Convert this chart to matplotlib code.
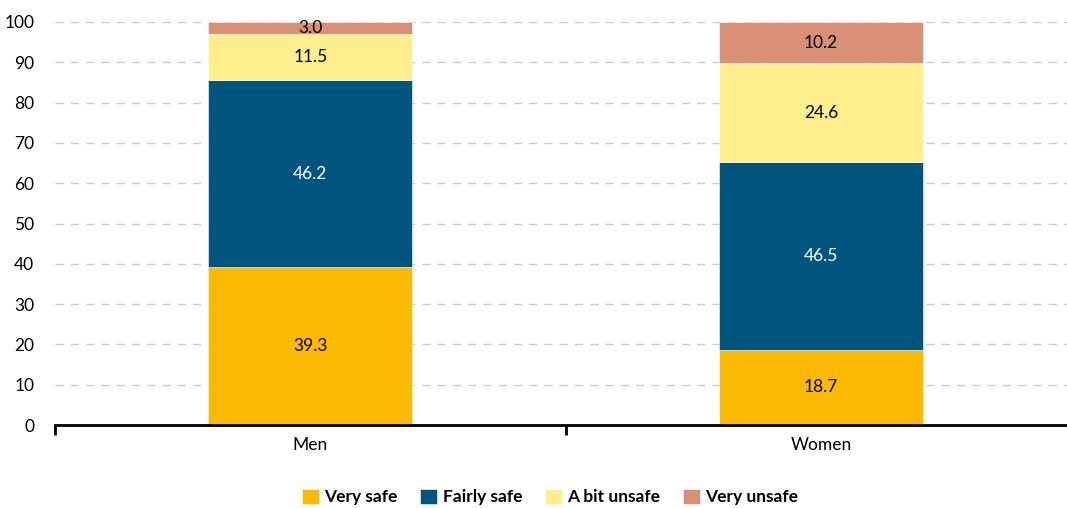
import numpy as np
from matplotlib import pyplot as plt
from matplotlib.ticker import FixedLocator

plt.rcParams['font.family'] = ['Lato', 'DejaVu Sans']

groups = ["Men", "Women"]
series = ["Very safe", "Fairly safe", "A bit unsafe", "Very unsafe"]
very_safe = [39.3, 18.7]
fairly_safe = [46.2, 46.5]
bit_unsafe = [11.5, 24.6]
very_unsafe = [3.0, 10.2]
colors = ["#FBBA00", "#00557F", "#FFEF8C", "#D99074"]
label_colors = ["black", "white", "black", "black"]

fig = plt.figure(figsize=(10.67, 5.08), dpi=100)
ax = fig.add_axes([55/1067, 83/508, 1012/1067, 403/508])

x = np.arange(len(groups))
bottom = np.zeros(len(groups))
for name, vals, col, lc in zip(series, [very_safe, fairly_safe, bit_unsafe, very_unsafe], colors, label_colors):
    ax.bar(x, vals, width=0.4, bottom=bottom, color=col, label=name,
           edgecolor="white", linewidth=0.4, zorder=3)
    for xi, b, v in zip(x, bottom, vals):
        ax.text(xi, b + v / 2, f"{v:.1f}", ha="center", va="center",
                color=lc, fontsize=12.5, zorder=4)
    bottom += np.array(vals)

ax.set_xlim(-0.5, 1.482)
ax.set_ylim(0, 100)
ax.set_yticks(np.arange(0, 101, 10))
ax.tick_params(axis="y", length=0, labelsize=12.5, pad=15)
ax.set_xticks(x)
ax.set_xticklabels(groups, fontsize=12.5)
ax.tick_params(axis="x", which="major", length=0, pad=9)
ax.xaxis.set_minor_locator(FixedLocator([-0.5, 0.5, 1.5]))
ax.tick_params(axis="x", which="minor", length=7, width=2, direction="out", color="black")

ax.yaxis.grid(True, color="#CCCCCC", linestyle=(0, (6, 5)), linewidth=1, zorder=0)
ax.set_axisbelow(True)
for s in ["top", "right", "left"]:
    ax.spines[s].set_visible(False)
ax.spines["bottom"].set_linewidth(2)
ax.spines["bottom"].set_zorder(5)

fig.legend(loc="center", bbox_to_anchor=(550/1067, 1 - 497/508), ncol=4,
           frameon=False, handlelength=1.0, handleheight=1.0,
           handletextpad=0.3, columnspacing=1.3,
           prop={"weight": "bold", "size": 12.5})

plt.savefig("out.png", dpi=100)
plt.close()
